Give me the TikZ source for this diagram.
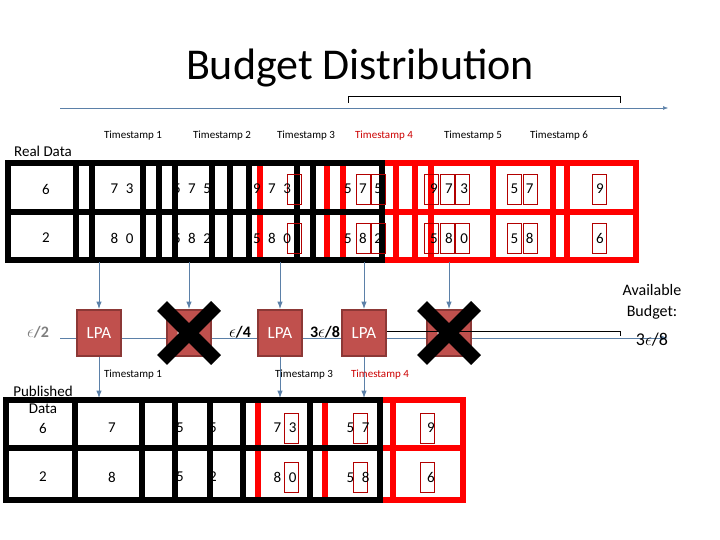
\documentclass[tikz,border=0pt]{standalone}
\usepackage{fontspec}
\setmainfont{Carlito}
\usetikzlibrary{arrows.meta}
\definecolor{lpared}{HTML}{C0504D}
\definecolor{lpaedge}{HTML}{8C3836}
\definecolor{flow}{HTML}{5B80A8}
\tikzset{
	blk/.style = {line width = 6pt, black},
	rd/.style = {line width = 6pt, red},
	digit/.style = {font = \fontsize{15}{15}\selectfont},
	ts/.style = {font = \fontsize{11}{11}\selectfont},
	hl/.style = {draw = red!70!black, line width = 0.6pt, minimum width = 14pt, minimum height = 30pt},
	lpa/.style = {draw = lpaedge, line width = 2pt, fill = lpared, text = white, minimum width = 44pt, minimum height = 46pt, font = \fontsize{17}{17}\selectfont},
	eps/.style = {font = \bfseries\fontsize{16}{16}\selectfont}
}
\begin{document}
\begin{tikzpicture}[x = 1pt, y = -1pt, > = Latex]

	\useasboundingbox (0, 0) rectangle (720, 540);

	% Title and time axis

	\node [font = \fontsize{44}{44}\selectfont] (title) at (360, 68) {Budget Distribution};
	\draw [flow, ->] (60, 108) -- (668, 108);
	\draw [thin] (348, 103) -- (348, 96) -- (620, 96) -- (620, 103);

	% Real data grid

	\draw [rd] (382, 163) -- (636, 163) -- (636, 260) -- (382, 260);
	\draw [rd] (382, 212) -- (636, 212);
	\foreach \x in {260, 327, 343, 396, 415, 431, 493, 553, 567}
		\draw [rd] (\x, 163) -- (\x, 260);
	\foreach \x in {76, 92, 143, 159, 175, 212, 230, 249, 297, 313}
		\draw [blk] (\x, 163) -- (\x, 260);
	\draw [blk] (8, 163) rectangle (382, 260);
	\draw [blk] (8, 212) -- (382, 212);
	\foreach \x in {294, 363, 378, 431, 447, 462, 514, 530, 599}
		\foreach \y in {189, 238}
			\node [hl] at (\x, \y) {};

	\foreach \x/\a/\b in {46/6/2, 122/7\enspace3/8\enspace0, 192/5\enspace7\enspace5/5\enspace8\enspace2, 272/9\enspace7\enspace3/5\enspace8\enspace0,
		363/5\enspace7\enspace5/5\enspace8\enspace2, 449/9\enspace7\enspace3/5\enspace8\enspace0, 522/5\enspace7/5\enspace8, 600/9/6}
	{
		\node [digit] at (\x, 189) {\a};
		\node [digit] at (\x, 238) {\b};
	}

	\node [font = \fontsize{15}{15}\selectfont] (real) at (43, 151) {Real Data};
	\foreach \x/\n in {133/1, 222/2, 306/3, 473/5, 559/6}
		\node [ts] at (\x, 136) {Timestamp \n};
	\node [ts, red!80!black] at (384, 136) {Timestamp 4};

	% Budget line with LPA boxes

	\draw [flow, line width = 1pt, ->] (60, 338) -- (668, 338);
	\node [lpa] (l1) at (99, 333) {LPA};
	\node [lpa] (l2) at (189, 333) {LPA};
	\node [lpa] (l3) at (280, 333) {LPA};
	\node [lpa] (l4) at (364, 333) {LPA};
	\node [lpa] (l5) at (449, 333) {LPA};
	\draw [thin] (l4.east |- 0, 331) -- (620, 331) -- (620, 336);
	\foreach \n in {1, 2, 3, 4, 5}
		\draw [flow, line width = 1pt, ->] (l\n |- 0, 262) -- (l\n.north);
	\foreach \n in {1, 3, 4}
		\draw [flow, line width = 1pt, ->] (l\n.south) -- (l\n |- 0, 398);
	\foreach \n in {2, 5}
	{
		\draw [line width = 14pt] ([shift = {(-27, -27)}] l\n.center) -- ([shift = {(27, 27)}] l\n.center);
		\draw [line width = 14pt] ([shift = {(-27, 27)}] l\n.center) -- ([shift = {(27, -27)}] l\n.center);
	}

	\node [eps, gray] at (38, 332) {$\epsilon$/2};
	\node [eps] at (240, 332) {$\epsilon$/4};
	\node [eps] at (325, 332) {3$\epsilon$/8};
	\node [font = \fontsize{16}{21}\selectfont, align = center] (avail) at (652, 302) {Available\\Budget:};
	\node [eps, font = \fontsize{18}{18}\selectfont] (left) at (652, 340) {3$\epsilon$/8};

	\node [ts] at (133, 375) {Timestamp 1};
	\node [ts] at (304, 375) {Timestamp 3};
	\node [ts, red!80!black] at (380, 375) {Timestamp 4};

	% Published data grid

	\draw [rd] (380, 400) -- (463, 400) -- (463, 500) -- (380, 500);
	\draw [rd] (380, 448) -- (463, 448);
	\foreach \x in {258, 325, 393}
		\draw [rd] (\x, 400) -- (\x, 500);
	\foreach \x in {75, 142, 175, 210, 243, 310}
		\draw [blk] (\x, 400) -- (\x, 500);
	\draw [blk] (6, 400) rectangle (380, 500);
	\draw [blk] (6, 448) -- (380, 448);
	\foreach \x in {291, 360, 427}
		\foreach \y in {428, 477}
			\node [hl] at (\x, \y) {};

	\foreach \x/\a/\b in {43/6/2, 112/7/8, 180/5/5, 213/5/2, 285/7\enspace3/8\enspace0, 358/5\enspace7/5\enspace8, 431/9/6}
	{
		\node [digit] at (\x, 428) {\a};
		\node [digit] at (\x, 477) {\b};
	}
	\node [font = \fontsize{15}{17}\selectfont, align = center] (pub) at (43, 400) {Published\\Data};

\end{tikzpicture}
\end{document}
